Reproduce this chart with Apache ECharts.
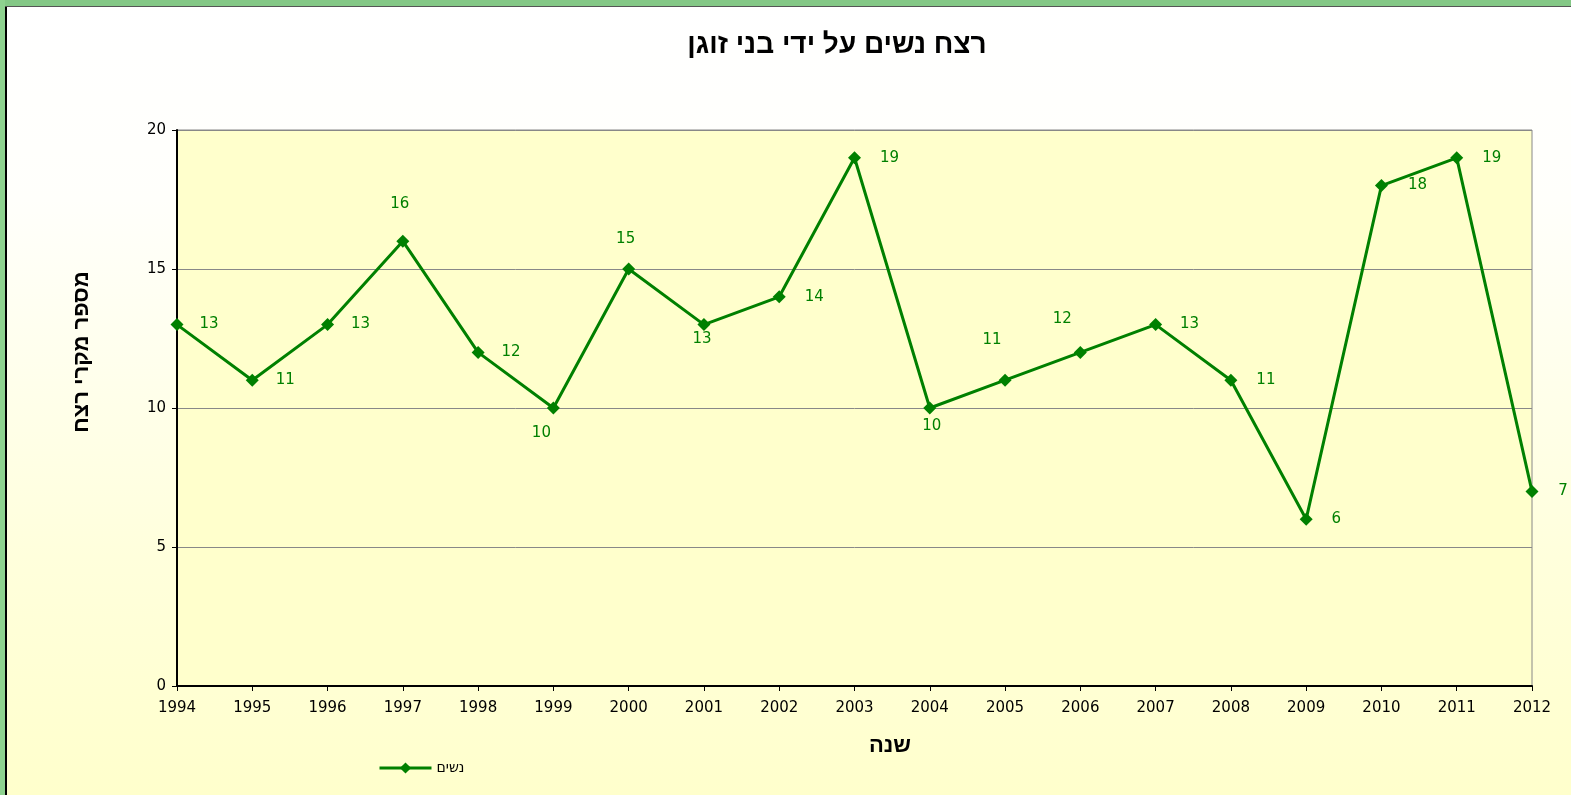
<!DOCTYPE html>
<html>
<head>
<meta charset="utf-8">
<script src="https://cdn.jsdelivr.net/npm/echarts@6/dist/echarts.min.js"></script>
<style>
html,body{margin:0;padding:0;width:1571px;height:795px;overflow:hidden;}
#chart{width:1571px;height:795px;}
</style>
</head>
<body>
<div id="chart"></div>
<script>
const years = ['1994','1995','1996','1997','1998','1999','2000','2001','2002','2003','2004','2005','2006','2007','2008','2009','2010','2011','2012'];
const women = [13,11,13,16,12,10,15,13,14,19,10,11,12,13,11,6,18,19,7];
const yTicks = [0,5,10,15,20];
const seriesName = 'נשים';
const titleText = 'רצח נשים על ידי בני זוגן';
const yAxisTitle = 'מספר מקרי רצח';
const xAxisTitle = 'שנה';

// label placement (offsets from point centre, px)
const labelOffsets = [[32,0],[33,0],[33,0],[-3,-37],[33,0],[-12,25],[-3,-30],[-2,15],[35,0],[35,0],[2,18],[-13,-40],[-18,-33],[34,0],[35,0],[30,0],[36,0],[35,0],[31,0]];

const green = '#008000';
const chart = echarts.init(document.getElementById('chart'));
chart.setOption({
  animation: false,
  backgroundColor: {type:'linear', x:0, y:0, x2:0, y2:1, colorStops:[{offset:0,color:'#ffffff'},{offset:0.25,color:'#fffffb'},{offset:0.7,color:'#ffffdc'},{offset:1,color:'#ffffcc'}]},
  title: {
    text: titleText, left: 832, top: 26, textAlign: 'center',
    textStyle: {fontFamily: 'Liberation Sans, DejaVu Sans', fontWeight: 'bold', fontSize: 28, color: '#000'}
  },
  graphic: [
    {type:'rect', left:0, top:0, shape:{width:1571, height:7}, style:{fill:'#84c886'}, z:100},
    {type:'rect', left:0, top:0, shape:{width:5, height:795}, style:{fill:'#8ed28f'}, z:100},
    {type:'rect', left:5, top:6, shape:{width:2, height:789}, style:{fill:'#000'}, z:101},
    {type:'rect', left:5, top:6, shape:{width:1566, height:1}, style:{fill:'#555'}, z:101},
    {type:'text', x:82, y:352, rotation:Math.PI/2, style:{text:yAxisTitle, fill:'#000', font:'bold 22px "Liberation Sans", "DejaVu Sans"', textAlign:'center', textVerticalAlign:'middle'}},
    {type:'text', x:890, y:746, style:{text:xAxisTitle, fill:'#000', font:'bold 22px "Liberation Sans", "DejaVu Sans"', textAlign:'center', textVerticalAlign:'middle'}}
  ],
  legend: {
    left: 373, top: 756, itemWidth: 52, itemHeight: 14, itemGap: 5,
    data: [seriesName],
    lineStyle: {width: 3, color: green},
    textStyle: {fontFamily: 'DejaVu Sans', fontSize: 14, color: '#000'}
  },
  grid: {left: 177, right: 39, top: 130, bottom: 109, show: true, backgroundColor: '#ffffcc', borderColor: '#888', borderWidth: 1},
  xAxis: {
    type: 'category', data: years, boundaryGap: false,
    axisLine: {lineStyle: {color: '#000', width: 2}},
    axisTick: {show: true, length: 5, lineStyle: {color: '#000', width: 1}, alignWithLabel: true},
    axisLabel: {color: '#000', fontFamily: 'DejaVu Sans', fontSize: 15, margin: 15, interval: 0},
    splitLine: {show: false}
  },
  yAxis: {
    type: 'value', min: yTicks[0], max: yTicks[yTicks.length-1], interval: 5,
    axisLine: {show: true, lineStyle: {color: '#000', width: 2}},
    axisTick: {show: true, length: 5, lineStyle: {color: '#000'}},
    axisLabel: {color: '#000', fontFamily: 'DejaVu Sans', fontSize: 15, margin: 11},
    splitLine: {lineStyle: {color: '#888', width: 1}}
  },
  series: [{
    name: seriesName, type: 'line',
    data: women.map((v, i) => ({value: v, label: {offset: labelOffsets[i]}})),
    symbol: 'diamond', symbolSize: 13,
    lineStyle: {color: green, width: 3},
    itemStyle: {color: green},
    label: {show: true, position: 'inside', color: green, fontFamily: 'DejaVu Sans', fontSize: 15},
    clip: false
  }]
});
</script>
</body>
</html>
